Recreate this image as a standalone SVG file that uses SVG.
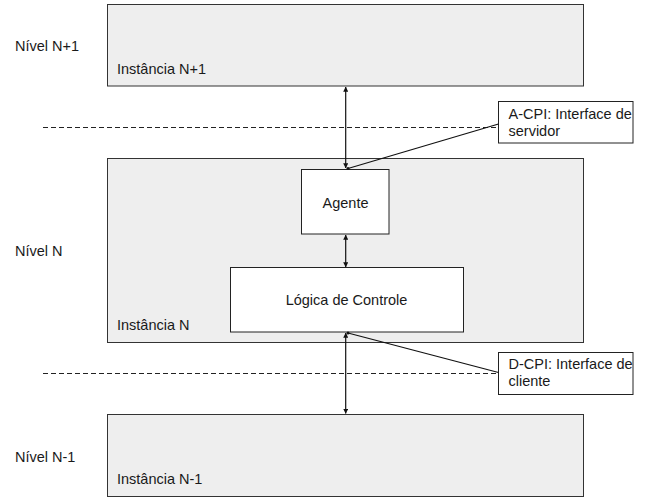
<svg xmlns="http://www.w3.org/2000/svg" width="652" height="503" viewBox="0 0 652 503">
<style>
text{font-family:"Liberation Sans",Arial,sans-serif;font-size:14.5px;fill:#1a1a1a}
.inst{fill:#eeeeee;stroke:#333;stroke-width:1}
.inner{fill:#ffffff;stroke:#222;stroke-width:1}
.note{fill:#ffffff;stroke:#222;stroke-width:1}
.dash{stroke:#222;stroke-width:1;stroke-dasharray:5 3;fill:none}
.conn{stroke:#111;stroke-width:1.2;fill:none}
.mid{text-anchor:middle}
</style>
<defs>
<marker id="ah" viewBox="0 0 8 8" refX="7.5" refY="4" markerWidth="5" markerHeight="5" orient="auto-start-reverse" markerUnits="userSpaceOnUse">
<path d="M0,0 L8,4 L0,8 z" fill="#111"/>
</marker>
</defs>
<rect x="0" y="0" width="652" height="503" fill="#ffffff"/>
<g id="levels">
<text x="15" y="51">Nível N+1</text>
<text x="15" y="256">Nível N</text>
<text x="15" y="462">Nível N-1</text>
</g>
<g id="boundaries">
<line class="dash" x1="43" y1="127.5" x2="498" y2="127.5"/>
<line class="dash" x1="43" y1="373.5" x2="498" y2="373.5"/>
</g>
<g id="inst-n1">
<rect class="inst" x="107.5" y="4.5" width="476" height="81.5"/>
<text x="117" y="74">Instância N+1</text>
</g>
<g id="inst-n">
<rect class="inst" x="107.5" y="158.5" width="476" height="184"/>
<text x="117" y="330">Instância N</text>
</g>
<g id="agente">
<rect class="inner" x="301.5" y="169.5" width="87.5" height="64.5"/>
<text class="mid" x="345.5" y="208">Agente</text>
</g>
<g id="logica">
<rect class="inner" x="230.5" y="267.5" width="233" height="64.5"/>
<text class="mid" x="346.5" y="305">Lógica de Controle</text>
</g>
<g id="inst-n-1">
<rect class="inst" x="107.5" y="414.5" width="476" height="82"/>
<text x="117" y="484">Instância N-1</text>
</g>
<g id="a-cpi">
<rect class="note" x="498.5" y="101.5" width="134.5" height="41.5"/>
<text x="508.5" y="118.5">A-CPI: Interface de</text>
<text x="508.5" y="135.5">servidor</text>
</g>
<g id="d-cpi">
<rect class="note" x="498.5" y="352.5" width="134.5" height="42"/>
<text x="508.5" y="369">D-CPI: Interface de</text>
<text x="508.5" y="386">cliente</text>
</g>
<g id="connectors">
<line class="conn" x1="345.7" y1="87" x2="345.7" y2="168" marker-start="url(#ah)" marker-end="url(#ah)"/>
<line class="conn" x1="345.7" y1="235" x2="345.7" y2="267" marker-start="url(#ah)" marker-end="url(#ah)"/>
<line class="conn" x1="345.7" y1="333" x2="345.7" y2="413.5" marker-start="url(#ah)" marker-end="url(#ah)"/>
<line class="conn" x1="498.5" y1="124" x2="348" y2="168.5"/>
<circle cx="348" cy="168.5" r="1.5" fill="#111"/>
<line class="conn" x1="498.5" y1="372.5" x2="348" y2="333"/>
<circle cx="348" cy="333" r="1.5" fill="#111"/>
</g>
</svg>
